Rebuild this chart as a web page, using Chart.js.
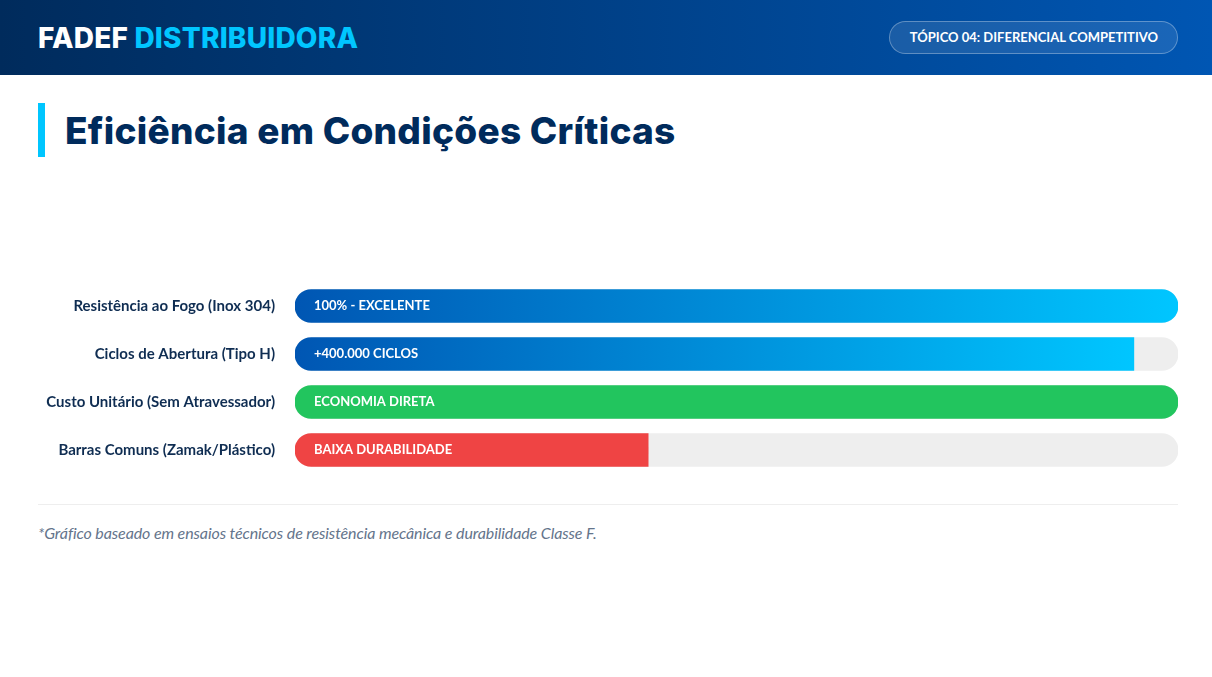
<!DOCTYPE html>
<html lang="pt-BR">
<head>
<meta charset="utf-8">
<title>Eficiência em Condições Críticas</title>
<script src="https://cdn.jsdelivr.net/npm/chart.js@4/dist/chart.umd.min.js"></script>
<style>
  html, body { margin: 0; padding: 0; background: #fff; }
  body { width: 1212px; height: 677px; position: relative; overflow: hidden; font-family: Lato, "Noto Sans", sans-serif; }
  .header {
    position: absolute; left: 0; top: 0; width: 1212px; height: 75px;
    background: linear-gradient(90deg, #002b5c 0%, #0056b3 100%);
  }
  .brand {
    position: absolute; left: 38px; top: 21px;
    font-family: Inter, "DejaVu Sans", sans-serif; font-weight: 800; font-size: 28px;
    color: #fff; letter-spacing: 0.2px;
  }
  .brand span { color: #00c6ff; }
  .pill {
    position: absolute; right: 34px; top: 21px; height: 31px; padding: 0 19px 0 20px;
    border: 1px solid rgba(255,255,255,0.3); border-radius: 17px;
    background: rgba(255,255,255,0.1);
    color: #fff; font-family: Lato, sans-serif; font-weight: 700; font-size: 13px;
    line-height: 31px;
  }
  .title-bar { position: absolute; left: 38px; top: 103px; width: 7px; height: 54px; background: #00c6ff; }
  .title {
    position: absolute; left: 65px; top: 108px;
    font-family: Inter, "DejaVu Sans", sans-serif; font-weight: 800; font-size: 37px;
    color: #002b5c; letter-spacing: 0.27px;
  }
  .chart-box { position: absolute; left: 38px; top: 282px; width: 1140px; height: 192px; }
  .divider { position: absolute; left: 38px; top: 504px; width: 1140px; height: 1px; background: #eeeeee; }
  .note {
    position: absolute; left: 38px; top: 523px;
    font-family: Lato, sans-serif; font-style: italic; font-size: 16px; color: #64748b;
    letter-spacing: -0.1px;
  }
</style>
</head>
<body>
<div class="header">
  <div class="brand">FADEF <span>DISTRIBUIDORA</span></div>
  <div class="pill">TÓPICO 04: DIFERENCIAL COMPETITIVO</div>
</div>
<div class="title-bar"></div>
<div class="title">Eficiência em Condições Críticas</div>
<div class="chart-box"><canvas id="grafico" width="1140" height="192"></canvas></div>
<div class="divider"></div>
<div class="note">*Gráfico baseado em ensaios técnicos de resistência mecânica e durabilidade Classe F.</div>

<script>
// dados do gráfico
const categorias = [
  'Resistência ao Fogo (Inox 304)',
  'Ciclos de Abertura (Tipo H)',
  'Custo Unitário (Sem Atravessador)',
  'Barras Comuns (Zamak/Plástico)'
];
const valores = [100, 95, 100, 40];
const trilho = [100, 100, 100, 100];
const rotulos = ['100% - EXCELENTE', '+400.000 CICLOS', 'ECONOMIA DIRETA', 'BAIXA DURABILIDADE'];
const cores = ['gradiente', 'gradiente', '#22c55e', '#ef4444'];

const raio = 16.5;

// cor de cada barra: gradiente azul ou cor sólida
const corDaBarra = (context) => {
  const i = context.dataIndex;
  if (cores[i] !== 'gradiente') return cores[i];
  const chart = context.chart;
  const x = chart.scales.x;
  if (!x || !chart.chartArea) return '#0056b3';
  const x0 = x.getPixelForValue(0);
  const x1 = x.getPixelForValue(valores[i]);
  const g = chart.ctx.createLinearGradient(x0, 0, x1, 0);
  g.addColorStop(0, '#0056b3');
  g.addColorStop(1, '#00c6ff');
  return g;
};

// texto branco dentro de cada barra
const textoNasBarras = {
  id: 'textoNasBarras',
  afterDatasetsDraw(chart) {
    const meta = chart.getDatasetMeta(0);
    const ctx = chart.ctx;
    ctx.save();
    ctx.font = '700 13px Lato, sans-serif';
    ctx.fillStyle = '#ffffff';
    ctx.textBaseline = 'middle';
    meta.data.forEach((bar, i) => {
      ctx.fillText(rotulos[i], bar.base + 19, bar.y);
    });
    ctx.restore();
  }
};

new Chart(document.getElementById('grafico'), {
  type: 'bar',
  data: {
    labels: categorias,
    datasets: [
      {
        label: 'Valor',
        data: valores,
        backgroundColor: corDaBarra,
        borderSkipped: false,
        borderRadius: (context) => {
          const cheio = valores[context.dataIndex] >= 100;
          return { topLeft: raio, bottomLeft: raio, topRight: cheio ? raio : 0, bottomRight: cheio ? raio : 0 };
        },
        barThickness: 33,
        grouped: false,
        order: 1
      },
      {
        label: 'Trilho',
        data: trilho,
        backgroundColor: '#eeeeee',
        borderSkipped: false,
        borderRadius: raio,
        barThickness: 33,
        grouped: false,
        order: 2
      }
    ]
  },
  options: {
    indexAxis: 'y',
    responsive: false,
    animation: false,
    layout: { padding: 0, autoPadding: false },
    scales: {
      x: { display: false, min: 0, max: 100 },
      y: {
        grid: { display: false, drawTicks: false },
        border: { display: false },
        ticks: {
          color: '#0f2d52',
          font: { family: 'Lato, sans-serif', weight: '700', size: 15 },
          padding: 20
        },
        afterFit: (scale) => {
          scale.width = 257;
          scale.paddingTop = 0;
          scale.paddingBottom = 0;
        }
      }
    },
    plugins: {
      legend: { display: false },
      tooltip: { enabled: false }
    }
  },
  plugins: [textoNasBarras]
});
</script>
</body>
</html>
